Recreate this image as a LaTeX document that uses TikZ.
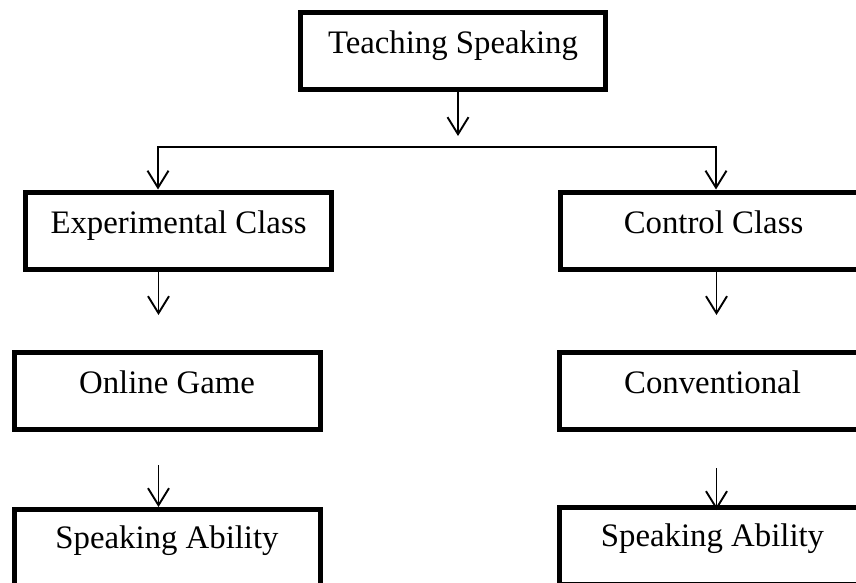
\documentclass[tikz,border=0pt]{standalone}
\usepackage{fontspec}
\setmainfont{Liberation Serif}
\usetikzlibrary{arrows.meta}
\begin{document}
\begin{tikzpicture}[x=1pt,y=-1pt,
  box/.style={draw, line width=5pt, minimum width=306pt, minimum height=77pt,
    inner sep=0pt, text height=41pt, text depth=36pt,
    font=\fontsize{32.8}{39}\selectfont},
  lowbox/.style={box, text height=39pt, text depth=38pt},
  tip/.style={Straight Barb[length=17pt,width=21pt]},
  arr/.style={line width=1.9pt, -{Straight Barb[length=17pt,width=21pt]}},
  link/.style={line width=1.9pt}]
\useasboundingbox (0,0) rectangle (856,583);
\clip (0,0) rectangle (856,583);
\fill[white] (0,0) rectangle (856,583);
% boxes
\node[box, minimum width=305pt] (top) at (453,51) {Teaching Speaking};
\node[box] (exp) at (178.5,230.5) {Experimental Class};
\node[box] (ctrl) at (713.5,230.5) {Control Class};
\node[box] (onl) at (167,391) {Online Game};
\node[box] (conv) at (712.5,391) {Conventional};
\node[lowbox] (sp1) at (167,548) {Speaking Ability};
\node[lowbox] (sp2) at (712.5,546) {Speaking Ability};
% free ends
\coordinate (t1) at (458,136);
\coordinate (bl) at (158,147);
\coordinate (br) at (716,147);
\coordinate (e1) at (158.5,315);
\coordinate (c1) at (716.5,315);
\coordinate (o1) at (158.5,465);
\coordinate (v1) at (716.5,468);
% connectors
\draw[arr] (top.south -| t1) -- (t1);
\draw[link, {Straight Barb[length=17pt,width=21pt]}-{Straight Barb[length=17pt,width=21pt]}]
  (exp.north -| bl) -- (bl) -- (br) -- (ctrl.north -| br);
\draw[arr] (exp.south -| e1) -- (e1);
\draw[arr] (ctrl.south -| c1) -- (c1);
\draw[arr] (o1) -- (sp1.north -| o1);
\draw[arr] (v1) -- ([yshift=-5pt]sp2.north -| v1);
\end{tikzpicture}
\end{document}
